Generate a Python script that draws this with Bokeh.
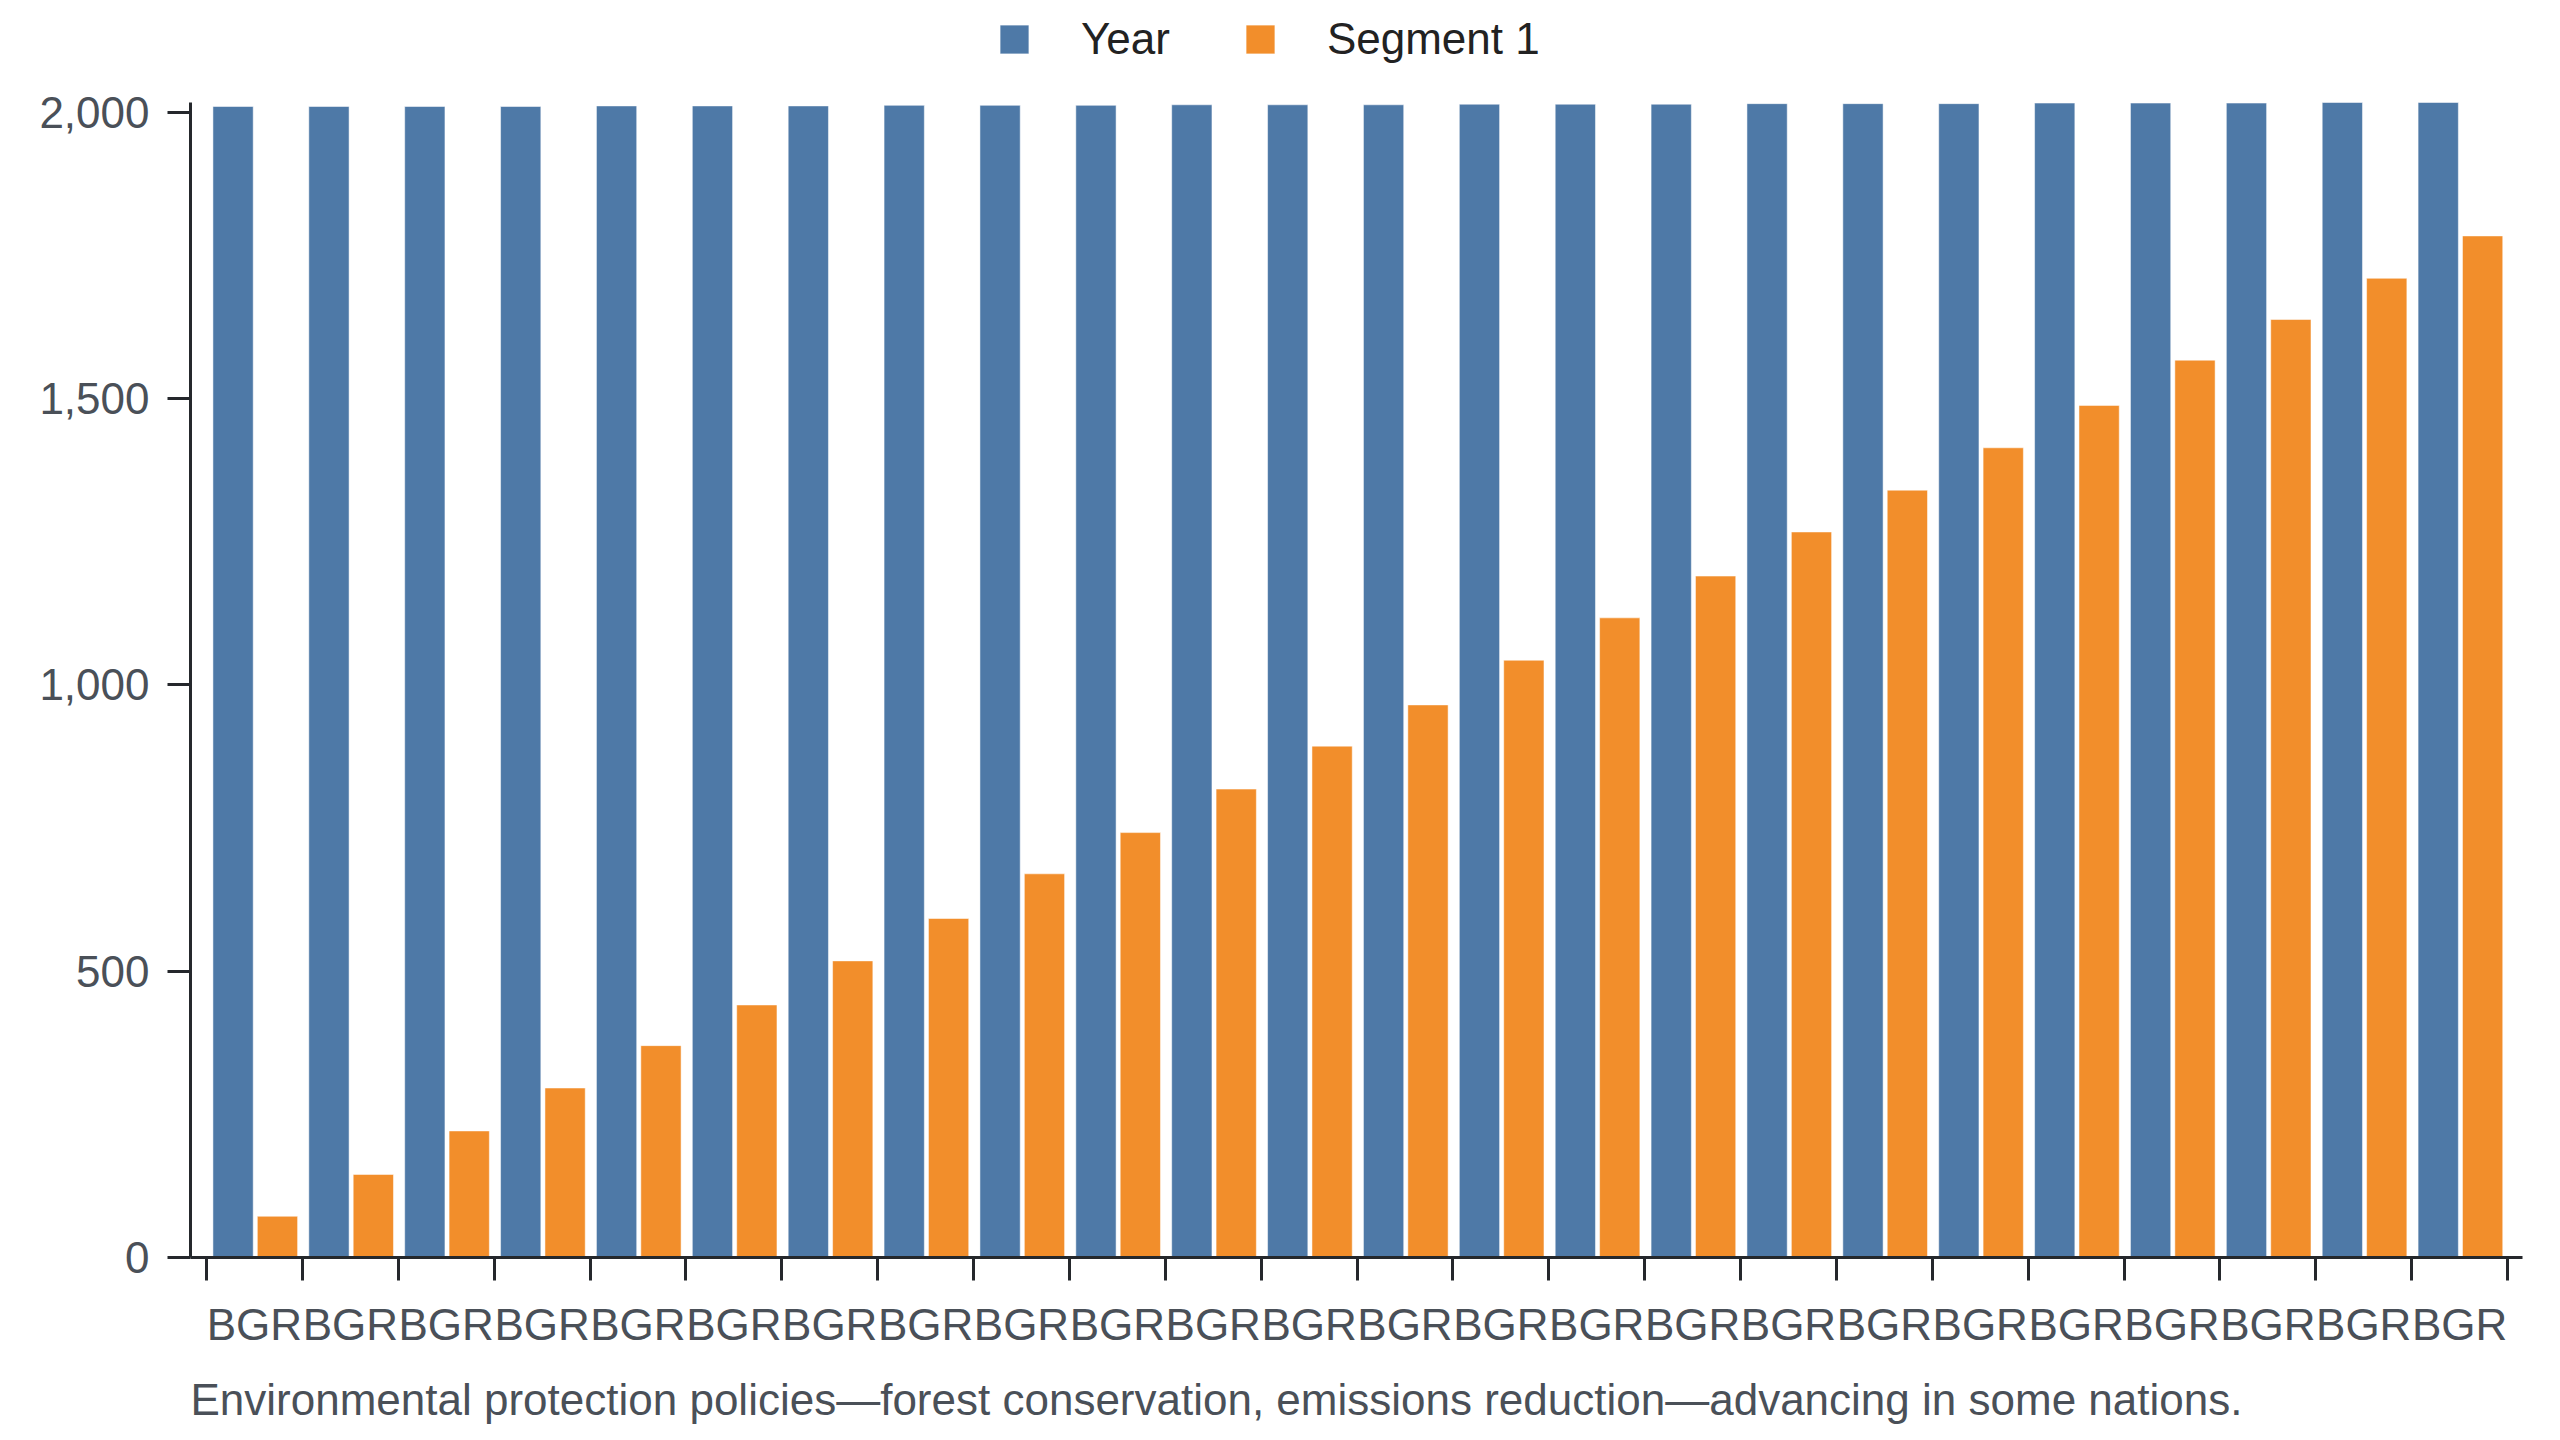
"""Grouped bar chart: Year vs Segment 1 per record."""

from bokeh.embed import file_html
from bokeh.models import (
    ColumnDataSource,
    CustomJSTickFormatter,
    FixedTicker,
    Legend,
    LegendItem,
    NumeralTickFormatter,
    Range1d,
    Title,
)
from bokeh.plotting import figure
from bokeh.resources import INLINE

# data
labels = ["BGR"] * 24
years = [2010, 2010, 2010, 2010, 2011, 2011, 2011, 2012, 2012, 2012, 2013, 2013,
         2013, 2014, 2014, 2014, 2015, 2015, 2015, 2016, 2016, 2016, 2017, 2017]
segment_1 = [72, 145, 221, 296, 370, 441, 518, 592, 670, 742, 818, 893,
             965, 1043, 1117, 1190, 1267, 1340, 1414, 1488, 1567, 1638, 1710, 1784]
y_ticks = [0, 500, 1000, 1500, 2000]
caption = ("Environmental protection policies\u2014forest conservation, "
           "emissions reduction\u2014advancing in some nations.")

FONT = "Liberation Sans"
BLUE = "#4e79a7"
ORANGE = "#f28e2b"
AXIS = "#25282c"
GREY = "#4a5058"

# the frame runs up to the page top so the legend can sit inside it;
# the value axis itself is bounded to the data extent
PLOT_H = 1155
FRAME_H = 1257
y_max = max(years)
y_top = y_max * FRAME_H / PLOT_H

n = len(labels)
groups = list(range(n))
source = ColumnDataSource(data=dict(
    x_year=[g + 0.277 for g in groups],
    x_seg=[g + 0.74 for g in groups],
    year=years,
    seg=segment_1,
))

p = figure(
    frame_width=2332,
    frame_height=FRAME_H,
    min_border_left=190,
    min_border_right=22,
    min_border_top=0,
    min_border_bottom=167,
    x_range=Range1d(-0.167, n + 0.156),
    y_range=Range1d(0, y_top),
    toolbar_location=None,
    output_backend="svg",
)
p.outline_line_color = None
p.grid.visible = False
p.background_fill_color = "white"
p.border_fill_color = "white"

r_year = p.vbar(x="x_year", top="year", width=0.42, source=source,
                fill_color=BLUE, line_color="white", line_alpha=0.5, line_width=1)
r_seg = p.vbar(x="x_seg", top="seg", width=0.42, source=source,
               fill_color=ORANGE, line_color="white", line_alpha=0.5, line_width=1)

# x axis: labels at band centres, ticks at band edges
xa = p.xaxis[0]
xa.ticker = FixedTicker(ticks=[g + 0.5 for g in groups],
                        minor_ticks=list(range(n + 1)))
xa.formatter = CustomJSTickFormatter(args=dict(labels=labels),
                                     code="return labels[Math.floor(tick)];")
xa.major_tick_line_color = None
xa.major_tick_out = 0
xa.major_tick_in = 0
xa.minor_tick_out = 23
xa.minor_tick_in = 0
xa.minor_tick_line_width = 3
xa.minor_tick_line_color = AXIS
xa.axis_line_width = 3
xa.axis_line_color = AXIS
xa.major_label_standoff = 19
xa.major_label_text_font = FONT
xa.major_label_text_font_size = "44px"
xa.major_label_text_color = GREY

ya = p.yaxis[0]
ya.bounds = (0, y_max)
ya.ticker = FixedTicker(ticks=y_ticks)
ya.formatter = NumeralTickFormatter(format="0,0")
ya.major_tick_out = 23
ya.major_tick_in = 0
ya.major_tick_line_width = 3
ya.major_tick_line_color = AXIS
ya.minor_tick_line_color = None
ya.axis_line_width = 3
ya.axis_line_color = AXIS
ya.major_label_standoff = 18
ya.major_label_text_font = FONT
ya.major_label_text_font_size = "44px"
ya.major_label_text_color = GREY

# legend in screen px from the frame's bottom-left corner
legend = Legend(
    items=[LegendItem(label="Year", renderers=[r_year]),
           LegendItem(label="Segment 1", renderers=[r_seg])],
    orientation="horizontal",
    location=(806, 1193),
    glyph_width=36,
    glyph_height=36,
    label_standoff=49,
    spacing=72,
    padding=0,
    margin=0,
    border_line_color=None,
    background_fill_alpha=0,
    label_text_font=FONT,
    label_text_font_size="44px",
    label_text_color="#222222",
)
p.add_layout(legend)

title = Title(text=caption, align="left", text_font=FONT, text_font_size="44px",
              text_font_style="normal", text_color=GREY, standoff=43)
p.add_layout(title, "below")

with open("out.html", "w") as f:
    f.write(file_html(p, INLINE))
